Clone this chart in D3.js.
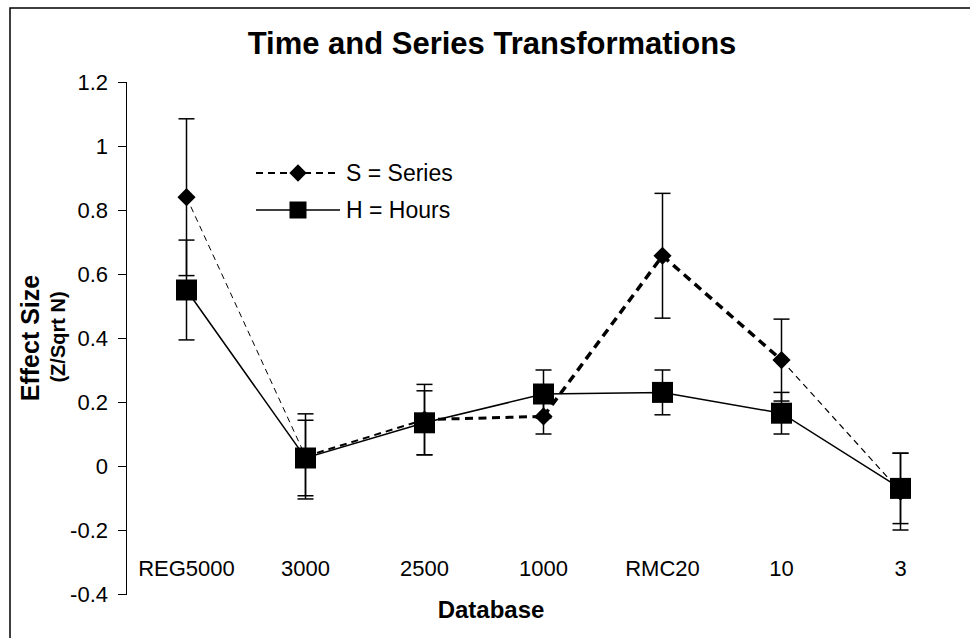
<!DOCTYPE html>
<html lang="en">
<head>
<meta charset="utf-8">
<script src="https://d3js.org/d3.v7.min.js"></script>
<style>
  body { margin: 0; background: #fff; }
  svg text { font-family: "Liberation Sans", Arial, sans-serif; fill: #000; }
  .axis path, .axis line { stroke: #000; stroke-width: 1; }
</style>
</head>
<body>
<svg width="970" height="638"></svg>
<script>

// data
var categories = ["REG5000", "3000", "2500", "1000", "RMC20", "10", "3"];
var seriesVals = [0.84, 0.03, 0.145, 0.155, 0.657, 0.331, -0.08];
var seriesErr  = [0.245, 0.133, 0.11, 0.055, 0.195, 0.128, 0.12];
var hoursVals  = [0.55, 0.025, 0.135, 0.225, 0.23, 0.165, -0.07];
var hoursErr   = [0.156, 0.118, 0.10, 0.075, 0.07, 0.065, 0.11];
var yTicks     = [-0.4, -0.2, 0, 0.2, 0.4, 0.6, 0.8, 1, 1.2];

// the dashed Series line gets thicker in the middle segments
var seriesSegWidths = [1, 2, 3, 3.5, 3.5, 1.2];

var svg = d3.select("svg"),
    margin = {top: 82, right: 10, bottom: 44, left: 127},
    width = 833,
    height = 512;

// outer frame
svg.append("rect")
    .attr("x", 10).attr("y", 8)
    .attr("width", 980).attr("height", 660)
    .attr("fill", "none").attr("stroke", "#000").attr("stroke-width", 1.5);

var x = d3.scaleBand()
    .domain(categories)
    .range([0, width]);

var y = d3.scaleLinear()
    .domain([-0.4, 1.2])
    .range([height, 0]);

var g = svg.append("g")
    .attr("transform", "translate(" + margin.left + "," + margin.top + ")");

function cx(i) { return x(categories[i]) + x.bandwidth() / 2; }

// y axis
g.append("g")
    .attr("class", "axis")
    .call(d3.axisLeft(y).tickValues(yTicks).tickSize(9).tickPadding(10)
      .tickFormat(function(d) { return String(+d.toFixed(1)); }))
    .call(function(a) {
      a.select(".domain").attr("d", "M-0.5,0V" + height);
      a.selectAll("text").style("font-size", "22px");
    });

// category labels (no x axis line)
g.selectAll(".cat")
  .data(categories)
  .enter().append("text")
    .attr("class", "cat")
    .attr("x", function(d, i) { return cx(i); })
    .attr("y", 494)
    .attr("text-anchor", "middle")
    .style("font-size", "22px")
    .text(function(d) { return d; });

// error bars
function errorBars(vals, errs, cls) {
  var eb = g.selectAll("." + cls)
    .data(vals)
    .enter().append("g")
      .attr("class", cls)
      .attr("stroke", "#000").attr("stroke-width", 1.5);
  eb.append("line")
      .attr("x1", function(d, i) { return cx(i); })
      .attr("x2", function(d, i) { return cx(i); })
      .attr("y1", function(d, i) { return y(d + errs[i]); })
      .attr("y2", function(d, i) { return y(d - errs[i]); });
  [1, -1].forEach(function(s) {
    eb.append("line")
        .attr("x1", function(d, i) { return cx(i) - 8; })
        .attr("x2", function(d, i) { return cx(i) + 8; })
        .attr("y1", function(d, i) { return y(d + s * errs[i]); })
        .attr("y2", function(d, i) { return y(d + s * errs[i]); });
  });
}
errorBars(seriesVals, seriesErr, "errS");
errorBars(hoursVals, hoursErr, "errH");

// Series: dashed, segment by segment
var segs = d3.pairs(seriesVals.map(function(v, i) { return [cx(i), y(v)]; }));
g.selectAll(".segS")
  .data(segs)
  .enter().append("line")
    .attr("class", "segS")
    .attr("x1", function(d) { return d[0][0]; })
    .attr("y1", function(d) { return d[0][1]; })
    .attr("x2", function(d) { return d[1][0]; })
    .attr("y2", function(d) { return d[1][1]; })
    .attr("stroke", "#000")
    .attr("stroke-width", function(d, i) { return seriesSegWidths[i]; })
    .attr("stroke-dasharray", function(d, i) {
      var w = seriesSegWidths[i];
      return (5 + w) + "," + (4 + w * 0.5);
    });

// Hours: solid line
var line = d3.line()
    .x(function(d, i) { return cx(i); })
    .y(function(d) { return y(d); });

g.append("path")
    .datum(hoursVals)
    .attr("d", line)
    .attr("fill", "none")
    .attr("stroke", "#000")
    .attr("stroke-width", 1.5);

// markers
var diamond = d3.symbol().type(d3.symbolSquare).size(165);
var square = d3.symbol().type(d3.symbolSquare).size(441);

g.selectAll(".ptS")
  .data(seriesVals)
  .enter().append("path")
    .attr("class", "ptS")
    .attr("d", diamond)
    .attr("transform", function(d, i) { return "translate(" + cx(i) + "," + y(d) + ") rotate(45)"; })
    .attr("fill", "#000");

g.selectAll(".ptH")
  .data(hoursVals)
  .enter().append("path")
    .attr("class", "ptH")
    .attr("d", square)
    .attr("transform", function(d, i) { return "translate(" + cx(i) + "," + y(d) + ")"; })
    .attr("fill", "#000");

// legend
var leg = svg.append("g");
leg.append("line")
    .attr("x1", 256).attr("x2", 340).attr("y1", 173).attr("y2", 173)
    .attr("stroke", "#000").attr("stroke-width", 2).attr("stroke-dasharray", "7,5");
leg.append("path")
    .attr("d", d3.symbol().type(d3.symbolSquare).size(150))
    .attr("transform", "translate(298,173) rotate(45)");
leg.append("text")
    .attr("x", 346).attr("y", 181)
    .style("font-size", "23px")
    .text("S = Series");
leg.append("line")
    .attr("x1", 256).attr("x2", 340).attr("y1", 210).attr("y2", 210)
    .attr("stroke", "#000").attr("stroke-width", 1.5);
leg.append("path")
    .attr("d", d3.symbol().type(d3.symbolSquare).size(289))
    .attr("transform", "translate(298,210)");
leg.append("text")
    .attr("x", 346).attr("y", 218)
    .style("font-size", "23px")
    .text("H = Hours");

// titles
svg.append("text")
    .attr("x", 492).attr("y", 54)
    .attr("text-anchor", "middle")
    .style("font-size", "31px").style("font-weight", "bold")
    .text("Time and Series Transformations");

svg.append("text")
    .attr("x", 491).attr("y", 618)
    .attr("text-anchor", "middle")
    .style("font-size", "24px").style("font-weight", "bold")
    .text("Database");

svg.append("text")
    .attr("transform", "translate(39,338) rotate(-90)")
    .attr("text-anchor", "middle")
    .style("font-size", "25px").style("font-weight", "bold")
    .text("Effect Size");

svg.append("text")
    .attr("transform", "translate(65,337) rotate(-90)")
    .attr("text-anchor", "middle")
    .style("font-size", "20px").style("font-weight", "bold")
    .text("(Z/Sqrt N)");

</script>
</body>
</html>
